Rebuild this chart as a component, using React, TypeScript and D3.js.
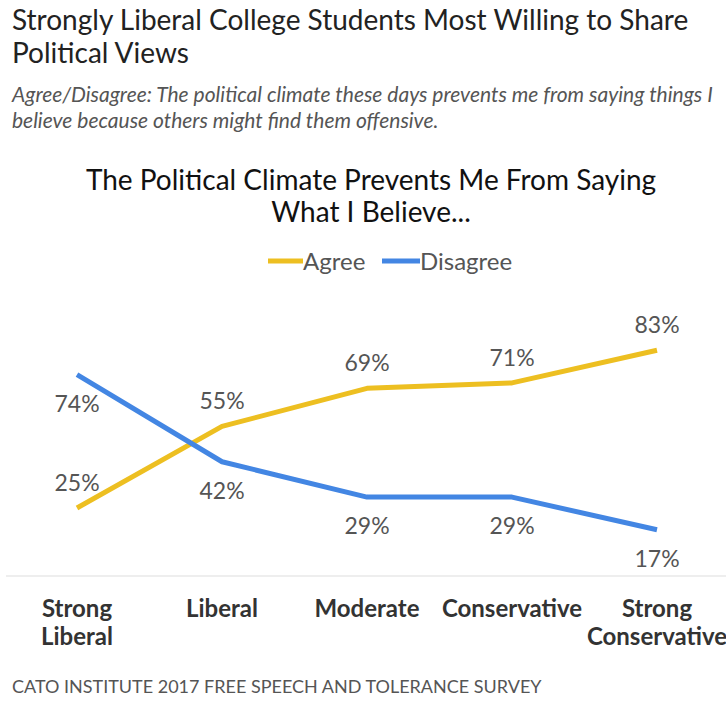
import React from "react";
import * as d3 from "d3";

const categories: string[][] = [
  ["Strong", "Liberal"],
  ["Liberal"],
  ["Moderate"],
  ["Conservative"],
  ["Strong", "Conservative"],
];
const agree: number[] = [25, 55, 69, 71, 83];
const disagree: number[] = [74, 42, 29, 29, 17];
const seriesNames = ["Agree", "Disagree"];

const W = 726;
const H = 706;
const YELLOW = "#EDBF21";
const BLUE = "#4386E3";
const FONT = "Lato, 'Open Sans', sans-serif";

export default function App() {
  const x = d3.scalePoint<number>().domain(d3.range(categories.length)).range([77, 657]);
  const y = d3.scaleLinear().domain([0, 100]).range([576, 304]);
  const line = d3
    .line<number>()
    .x((_, i) => x(i) as number)
    .y((d) => y(d))
    .curve(d3.curveLinear);

  return (
    <svg
      width={W}
      height={H}
      style={{ position: "absolute", left: 0, top: 0, background: "#fff" }}
      fontFamily={FONT}
    >
      <text x={12} y={30} fontSize={28} fill="#222">
        Strongly Liberal College Students Most Willing to Share
      </text>
      <text x={12} y={63} fontSize={28} fill="#222">
        Political Views
      </text>
      <text x={12} y={102} fontSize={21} fontStyle="italic" fill="#555">
        Agree/Disagree: The political climate these days prevents me from saying things I
      </text>
      <text x={12} y={128} fontSize={21} fontStyle="italic" fill="#555">
        believe because others might find them offensive.
      </text>

      <text x={371} y={190} fontSize={28} textAnchor="middle" fill="#111">
        The Political Climate Prevents Me From Saying
      </text>
      <text x={371} y={222} fontSize={28} textAnchor="middle" fill="#111">
        What I Believe...
      </text>

      {/* legend */}
      <line x1={268} x2={303} y1={261} y2={261} stroke={YELLOW} strokeWidth={5} />
      <text x={303} y={270} fontSize={24} fill="#555">
        {seriesNames[0]}
      </text>
      <line x1={382} x2={420} y1={261} y2={261} stroke={BLUE} strokeWidth={5} />
      <text x={420} y={270} fontSize={24} fill="#555">
        {seriesNames[1]}
      </text>

      {/* baseline */}
      <line x1={6} x2={W} y1={576} y2={576} stroke="#eeeeee" strokeWidth={2} />

      <path
        d={line(agree) || ""}
        fill="none"
        stroke={YELLOW}
        strokeWidth={5}
        strokeLinejoin="round"
      />
      <path
        d={line(disagree) || ""}
        fill="none"
        stroke={BLUE}
        strokeWidth={5}
        strokeLinejoin="round"
      />

      {agree.map((v, i) => (
        <text
          key={"a" + i}
          x={x(i)}
          y={y(v) - 17}
          fontSize={23}
          textAnchor="middle"
          fill="#555"
        >
          {v}%
        </text>
      ))}
      {disagree.map((v, i) => (
        <text
          key={"d" + i}
          x={x(i)}
          y={y(v) + 37}
          fontSize={23}
          textAnchor="middle"
          fill="#555"
        >
          {v}%
        </text>
      ))}

      {categories.map((lines, i) => (
        <text
          key={"c" + i}
          x={x(i)}
          fontSize={24}
          fontWeight="bold"
          textAnchor="middle"
          fill="#333"
        >
          {lines.map((l, j) => (
            <tspan key={j} x={x(i)} y={617 + j * 28}>
              {l}
            </tspan>
          ))}
        </text>
      ))}

      <text x={12} y={693} fontSize={18} fill="#555">
        CATO INSTITUTE 2017 FREE SPEECH AND TOLERANCE SURVEY
      </text>
    </svg>
  );
}
